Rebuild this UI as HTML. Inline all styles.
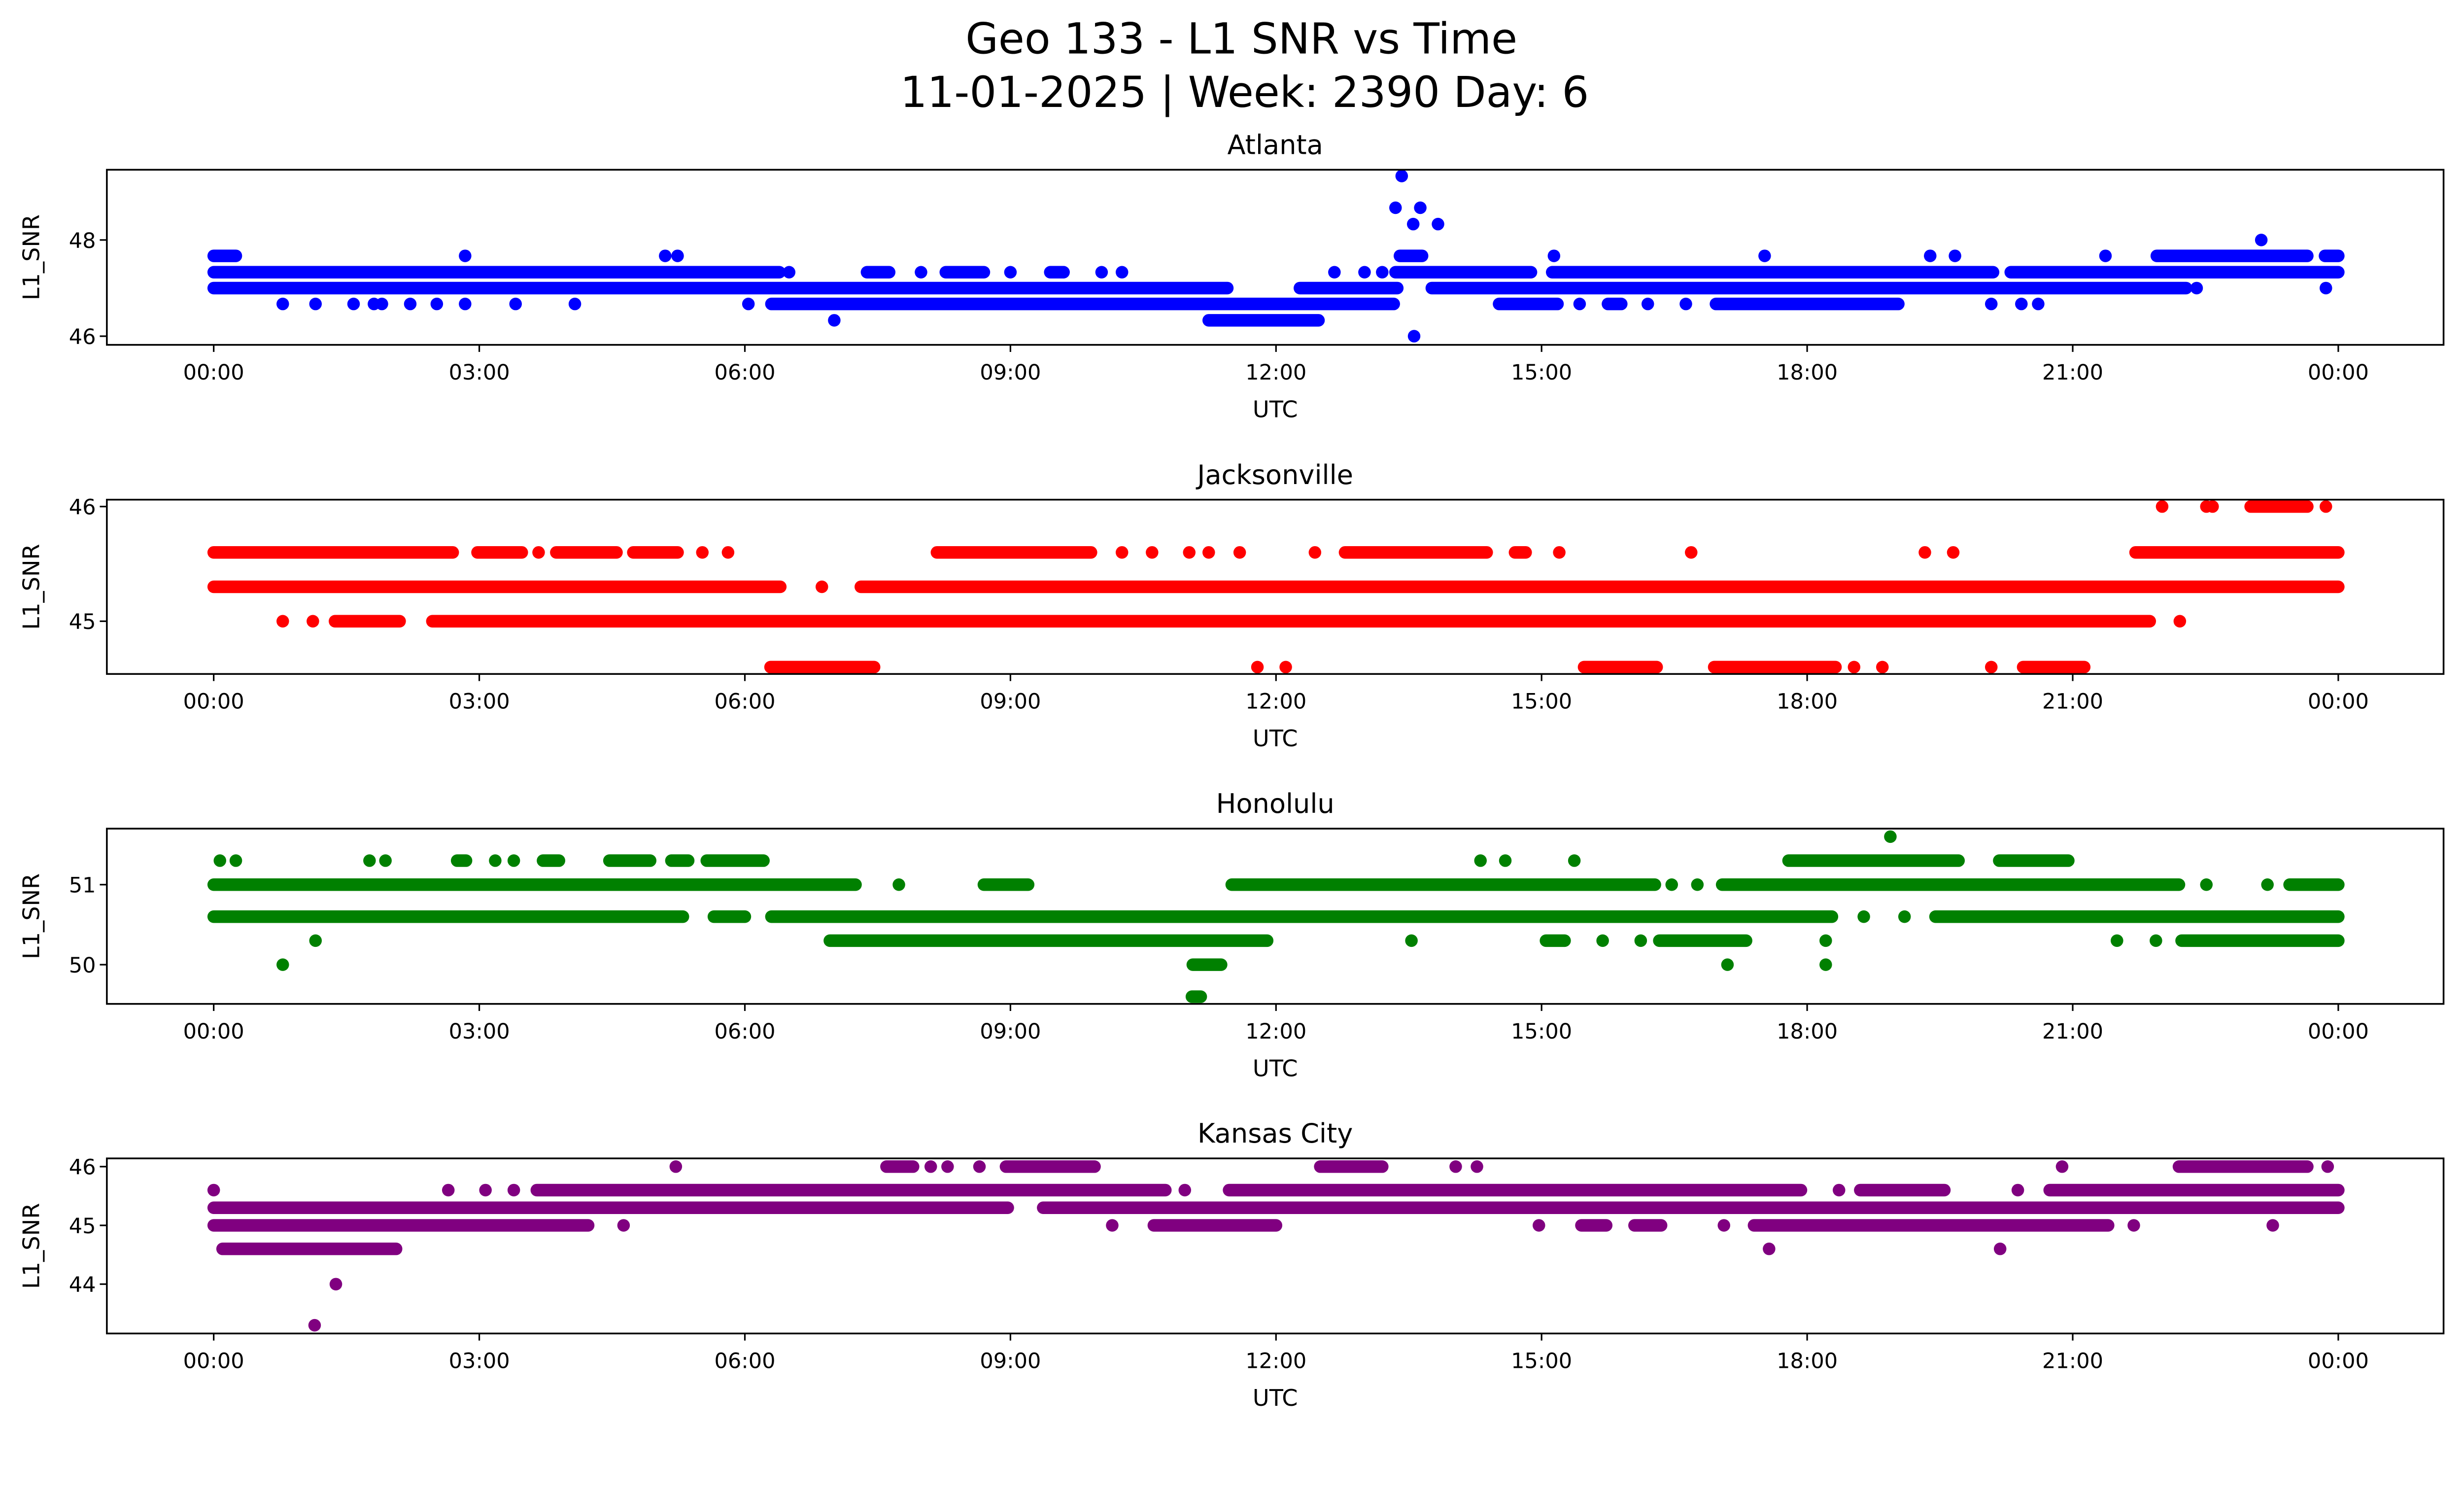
<!DOCTYPE html>
<html><head><meta charset="utf-8"><style>
html,body{margin:0;padding:0;background:#fff;overflow:hidden}
svg{display:block;width:100vw;height:calc(100vw * 3033 / 5225)}
text{font-family:"DejaVu Sans","Liberation Sans",sans-serif;fill:#000}
</style></head><body>
<svg id="chart" viewBox="0 0 1568 910.2" preserveAspectRatio="none" xmlns="http://www.w3.org/2000/svg">
<rect width="1568" height="910.2" fill="#fff"/>
<text x="790" y="34" font-size="27" text-anchor="middle">Geo 133 - L1 SNR vs Time</text>
<text x="792" y="68" font-size="27" text-anchor="middle">11-01-2025 | Week: 2390 Day: 6</text>
<g id="plots"></g>
</svg>
<script>
// ===== Data (hours UTC, SNR levels) =====
const xTickLabels = ["00:00","03:00","06:00","09:00","12:00","15:00","18:00","21:00","00:00"];
const xTickHours = [0,3,6,9,12,15,18,21,24];

const atlantaLevels = [46,46.33,46.67,47,47.33,47.67,48,48.33,48.67,49.33];
const atlantaRuns = [[],[[11.24,12.48]],[[6.3,13.33],[14.52,15.18],[15.75,15.9],[16.97,19.03]],[[0,11.45],[12.27,13.37],[13.76,22.28]],[[0,6.39],[7.38,7.63],[8.27,8.7],[9.45,9.6],[13.35,14.88],[15.12,20.1],[20.3,24]],[[0,0.25],[13.4,13.65],[21.95,23.65],[23.85,24]],[],[],[],[]];
const atlantaPoints = [[13.56],[7.01],[0.78,1.15,1.58,1.81,1.9,2.22,2.52,2.84,3.41,4.08,6.04,15.43,16.2,16.63,20.08,20.42,20.61],[22.4,23.86],[6.5,7.99,9.0,10.03,10.26,12.66,13.0,13.2],[2.84,5.1,5.24,15.14,17.52,19.39,19.67,21.37],[23.13],[13.55,13.83],[13.35,13.63],[13.42]];

const jaxLevels = [44.6,45,45.3,45.6,46];
const jaxRuns = [[[6.29,7.46],[15.48,16.3],[16.95,18.32],[20.44,21.13]],[[1.37,2.1],[2.47,21.87]],[[0,6.4],[7.31,24]],[[0,2.7],[2.98,3.48],[3.87,4.55],[4.74,5.24],[8.17,9.91],[12.78,14.38],[14.7,14.82],[21.71,24]],[[23.01,23.65]]];
const jaxPoints = [[11.79,12.11,18.53,18.85,20.08],[0.78,1.12,22.21],[6.87],[3.67,5.52,5.81,10.26,10.6,11.02,11.24,11.59,12.44,15.2,16.69,19.33,19.65],[22.01,22.51,22.58,23.86]];

const honLevels = [49.6,50,50.3,50.6,51,51.3,51.6];
const honRuns = [[[11.05,11.15]],[[11.06,11.38]],[[6.96,11.9],[15.05,15.26],[16.33,17.31],[22.23,24]],[[0,5.3],[5.65,6.0],[6.3,18.28],[19.45,24]],[[0,7.25],[8.7,9.2],[11.5,16.28],[17.04,22.2],[23.45,24]],[[2.75,2.85],[3.72,3.9],[4.47,4.93],[5.17,5.36],[5.57,6.21],[17.79,19.71],[20.17,20.95]],[]];
const honPoints = [[],[0.78,17.1,18.21],[1.15,13.53,15.69,16.12,18.21,21.5,21.94],[18.64,19.1],[7.74,16.47,16.76,22.51,23.2],[0.07,0.25,1.76,1.94,3.18,3.39,14.31,14.59,15.37],[18.94]];

const kcLevels = [43.3,44,44.6,45,45.3,45.6,46];
const kcRuns = [[],[],[[0.1,2.06]],[[0,4.23],[10.62,12.0],[15.45,15.73],[16.05,16.35],[17.4,21.4]],[[0,8.97],[9.37,24]],[[3.65,10.75],[11.47,17.93],[18.6,19.55],[20.74,24]],[[7.6,7.9],[8.95,9.95],[12.5,13.2],[22.2,23.65]]];
const kcPoints = [[1.14],[1.38],[17.57,20.18],[4.63,10.15,14.97,17.06,21.69,23.26],[],[0.0,2.65,3.07,3.39,10.97,18.36,20.38],[5.22,8.1,8.29,8.65,14.03,14.27,20.88,23.88]];

const panelTitles = ["Atlanta","Jacksonville","Honolulu","Kansas City"];
const panelColors = ["#0000ff","#ff0000","#008000","#800080"];
const panelYLim = [[45.82,49.46],[44.54,46.06],[49.51,51.70],[43.16,46.14]];
const panelYTicks = [[46,48],[45,46],[50,51],[44,45,46]];
const panelLevels = [atlantaLevels,jaxLevels,honLevels,kcLevels];
const panelRuns = [atlantaRuns,jaxRuns,honRuns,kcRuns];
const panelPoints = [atlantaPoints,jaxPoints,honPoints,kcPoints];

// ===== Layout =====
const NS = "http://www.w3.org/2000/svg";
const X0 = 68, X1 = 1555, T0 = 136, T1 = 1488;
const tops = [108, 317.9, 527.2, 737];
const bots = [219.4, 428.8, 638.7, 848.4];
const R = 4;
const root = document.getElementById('plots');
function mk(tag, attrs, parent){const e=document.createElementNS(NS,tag);for(const k in attrs)e.setAttribute(k,attrs[k]);(parent||root).appendChild(e);return e;}
const xScale = h => T0 + (T1 - T0) * h / 24;

for (let p = 0; p < 4; p++) {
  const top = tops[p], bot = bots[p];
  const [ymin, ymax] = panelYLim[p];
  const yScale = v => bot - (v - ymin) / (ymax - ymin) * (bot - top);
  const g = mk('g', {});
  
  
  const clipId = 'clip' + p;
  const cp = mk('clipPath', {id: clipId}, g);
  mk('rect', {x: X0, y: top, width: X1 - X0, height: bot - top}, cp);
  const marks = mk('g', {'clip-path': 'url(#' + clipId + ')', fill: panelColors[p], stroke: panelColors[p]}, g);
  
  
  const lv = panelLevels[p];
  for (let i = 0; i < lv.length; i++) {
    const y = yScale(lv[i]);
    panelRuns[p][i].forEach(r => {
      const l = mk('line', {x1: xScale(r[0]), x2: xScale(r[1]), y1: y, y2: y, 'stroke-width': 2 * R, 'stroke-linecap': 'round'}, marks);
      
      
    });
    panelPoints[p][i].forEach(h => {
      const c = mk('circle', {cx: xScale(h), cy: y, r: R, stroke: 'none'}, marks);
      
      
    });
  }
  const fr = mk('rect', {x: X0, y: top, width: X1 - X0, height: bot - top, fill: 'none', stroke: '#000', 'stroke-width': 1.1}, g);
  
  
  xTickHours.forEach((h, i) => {
    const x = xScale(h);
    mk('line', {x1: x, x2: x, y1: bot, y2: bot + 4.5, stroke: '#000', 'stroke-width': 1}, g);
    const t = mk('text', {x: x, y: bot + 22, 'font-size': 13.5, 'text-anchor': 'middle'}, g);
    
    
    t.textContent = xTickLabels[i];
  });
  panelYTicks[p].forEach(v => {
    const y = yScale(v);
    mk('line', {x1: X0 - 4.5, x2: X0, y1: y, y2: y, stroke: '#000', 'stroke-width': 1}, g);
    const t = mk('text', {x: X0 - 7, y: y + 5, 'font-size': 13.5, 'text-anchor': 'end'}, g);
    
    
    t.textContent = String(v);
  });
  const xt = mk('text', {x: (X0 + X1) / 2, y: bot + 46, 'font-size': 14.5, 'text-anchor': 'middle'}, g);
  
  
  xt.textContent = 'UTC';
  const cy = (top + bot) / 2;
  const yt = mk('text', {x: 25, y: cy, 'font-size': 14.5, 'text-anchor': 'middle', transform: 'rotate(-90 25 ' + cy + ')'}, g);
  
  
  yt.textContent = 'L1_SNR';
  const st = mk('text', {x: (X0 + X1) / 2, y: top - 10, 'font-size': 17, 'text-anchor': 'middle'}, g);
  
  
  st.textContent = panelTitles[p];
}
</script>
</body></html>
